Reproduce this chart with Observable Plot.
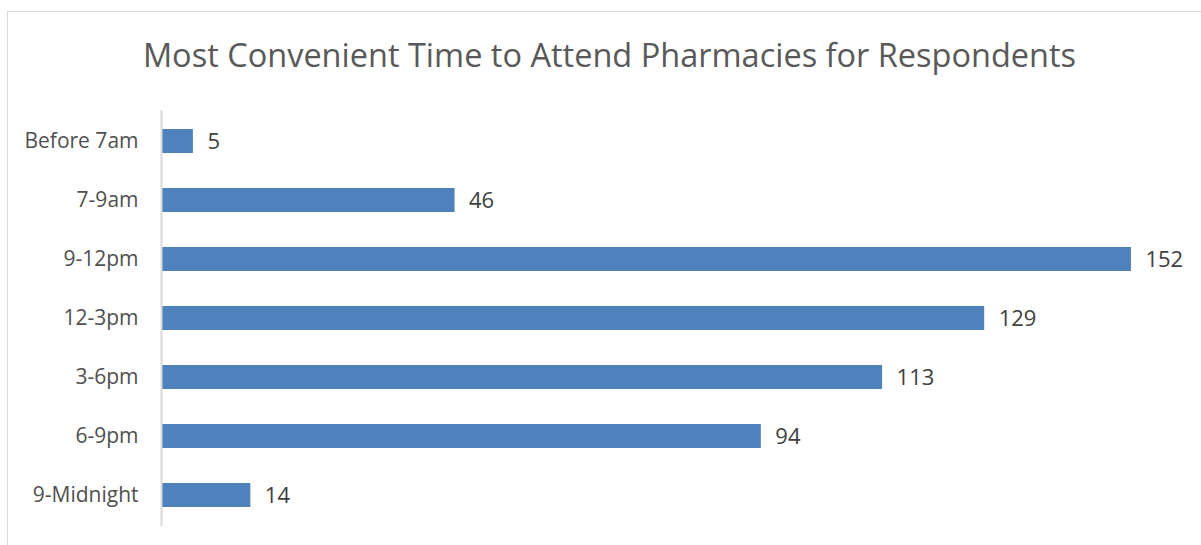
<!DOCTYPE html>
<html><head><meta charset="utf-8">
<script src="https://cdn.jsdelivr.net/npm/d3@7"></script>
<script src="https://cdn.jsdelivr.net/npm/@observablehq/plot@0.6"></script>
<style>
body{margin:0;background:#fff;font-family:"Open Sans",sans-serif;}
#frame{position:absolute;left:7px;top:11px;width:1300px;height:600px;border:1.5px solid #d9d9d9;box-sizing:border-box;}
#title{position:absolute;left:0;top:32px;width:1219px;text-align:center;font-size:32.5px;color:#595959;font-family:"Open Sans",sans-serif;}
#chart{position:absolute;left:0;top:100px;}
</style></head>
<body>
<div id="frame"></div>
<div id="title">Most Convenient Time to Attend Pharmacies for Respondents</div>
<div id="chart"></div>
<script>
const categories = ["Before 7am","7-9am","9-12pm","12-3pm","3-6pm","6-9pm","9-Midnight"];
const values = [5,46,152,129,113,94,14];
const data = categories.map((c,i)=>({cat:c, value:values[i]}));
const chart = Plot.plot({
  width:1201, height:445,
  marginLeft:161, marginRight:19, marginTop:10, marginBottom:19,
  style:{fontFamily:"Open Sans, sans-serif", fontSize:"18px", color:"#404040", background:"transparent"},
  x:{domain:[0,160], axis:null},
  y:{domain:categories, paddingInner:0.6, paddingOuter:0.3, axis:null},
  marks:[
    Plot.barX(data,{x:"value", y:"cat", fill:"#4F81BD"}),
    Plot.ruleX([0],{stroke:"#d9d9d9", strokeWidth:2}),
    Plot.axisY({tickSize:0, tickPadding:23, fontSize:21, fill:"#505050", label:null}),
    Plot.text(data,{x:"value", y:"cat", text:d=>String(d.value), textAnchor:"start", dx:14, fill:"#404040", fontSize:22})
  ]
});
document.getElementById("chart").appendChild(chart);
</script>
</body></html>
